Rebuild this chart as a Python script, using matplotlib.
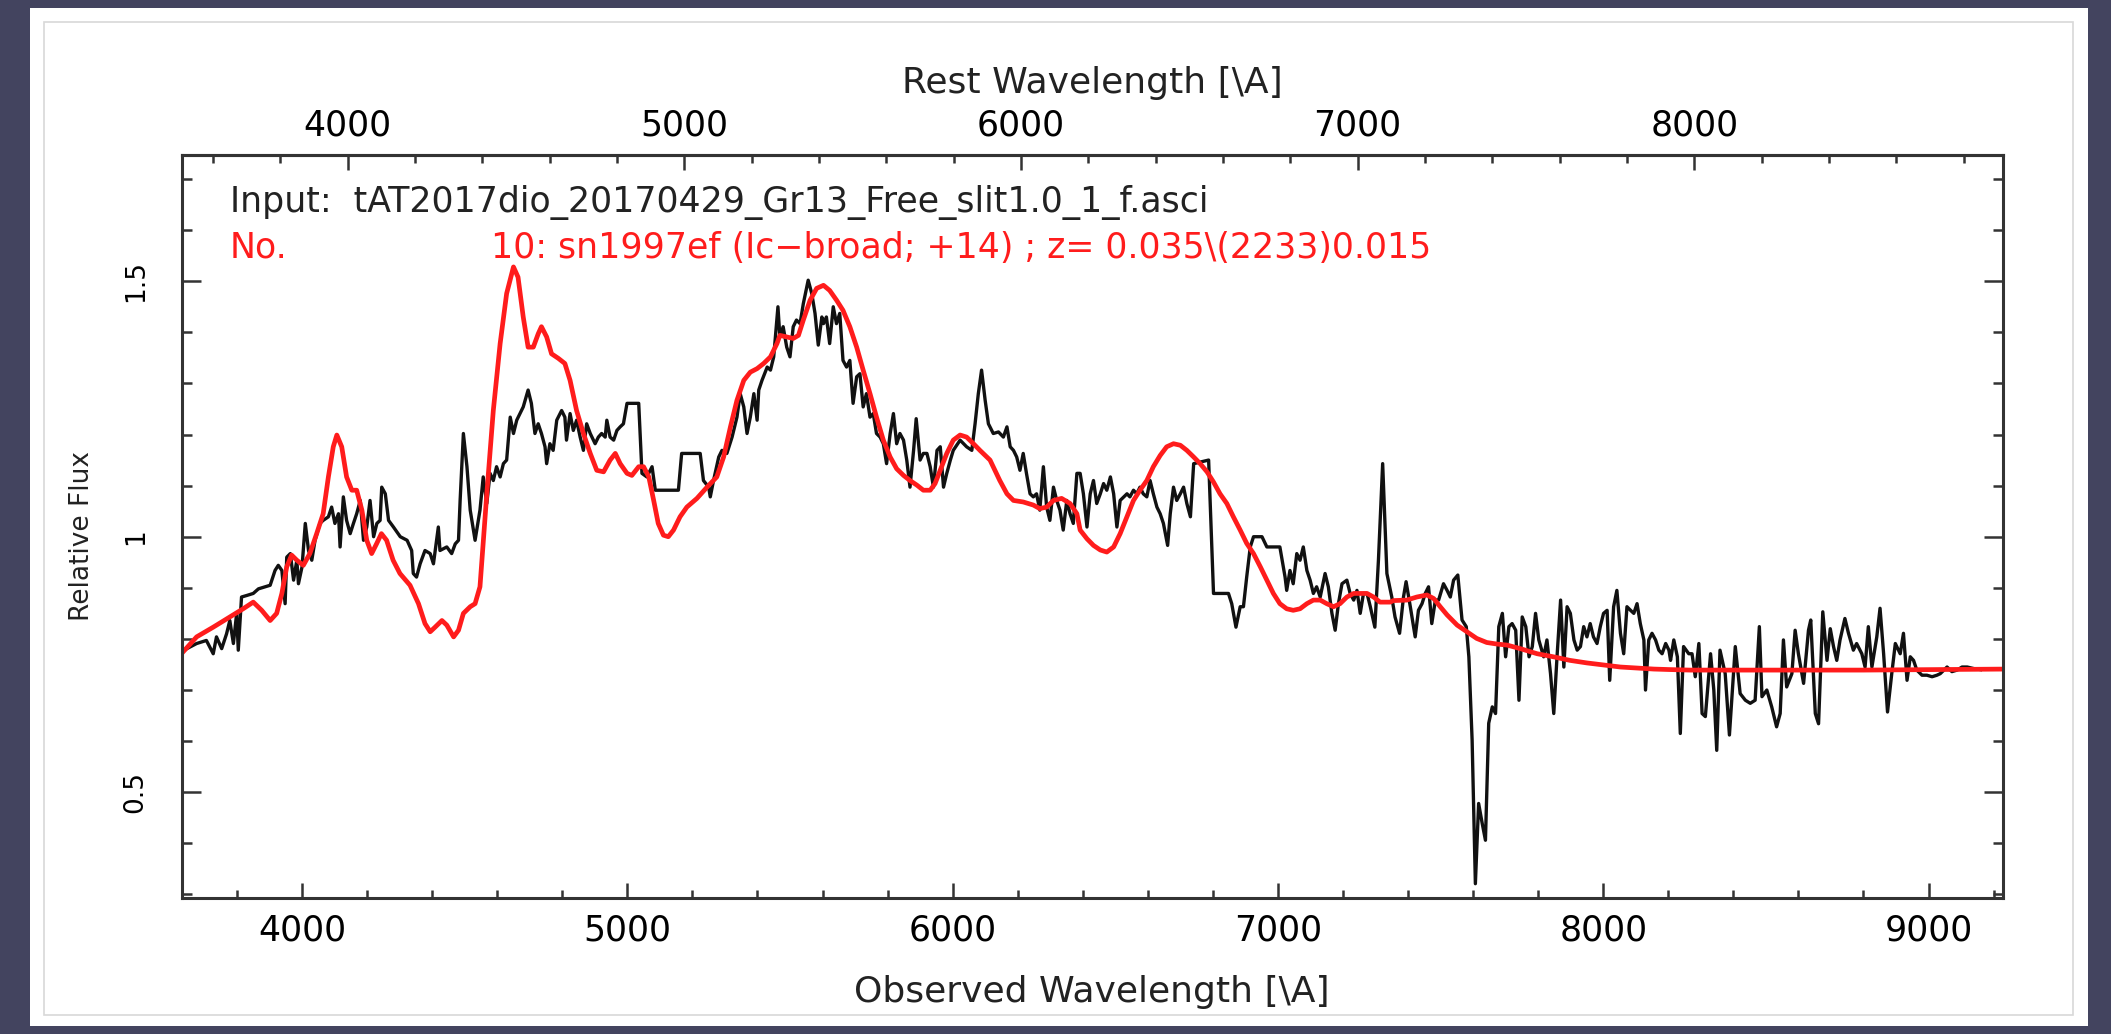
import matplotlib
matplotlib.use("Agg")
import matplotlib.pyplot as plt
from matplotlib.patches import Rectangle
from matplotlib.ticker import FixedLocator, MultipleLocator, FixedFormatter

# observed spectrum (black)
obs_wave = [
    3646, 3676, 3706, 3727, 3737, 3753, 3768, 3778, 3789, 3799, 3804, 3814, 3830, 3850, 3866, 3886,
    3902, 3917, 3927, 3938, 3948, 3953, 3964, 3974, 3984, 3989, 4000, 4010, 4020, 4030, 4040, 4055,
    4065, 4081, 4091, 4101, 4112, 4117, 4127, 4137, 4148, 4158, 4168, 4179, 4189, 4199, 4209, 4220,
    4230, 4240, 4245, 4256, 4266, 4281, 4302, 4323, 4337, 4342, 4352, 4363, 4378, 4394, 4404, 4419,
    4424, 4445, 4460, 4471, 4481, 4486, 4496, 4507, 4517, 4532,
    4547, 4557, 4568, 4578, 4588, 4598, 4609, 4619, 4629, 4640, 4650, 4660, 4670, 4680, 4695, 4705,
    4716, 4726, 4736, 4747, 4752, 4762, 4772, 4783, 4798, 4808, 4813, 4824, 4834, 4844, 4855, 4865,
    4875, 4886, 4901, 4911, 4921, 4932, 4937, 4947, 4958, 4968, 4978, 4988, 4999, 5035, 5045, 5060,
    5076, 5086, 5157, 5167, 5224, 5234, 5250, 5255, 5265, 5281, 5291, 5306, 5322, 5337, 5347, 5358,
    5368, 5378, 5389, 5399, 5404, 5414, 5430, 5440, 5450, 5463,
    5469, 5479, 5490, 5500, 5510, 5520, 5531, 5541, 5556, 5567, 5577, 5587, 5598, 5603, 5612, 5622,
    5633, 5643, 5653, 5663, 5674, 5684, 5694, 5705, 5715, 5725, 5735, 5746, 5756, 5766, 5777, 5787,
    5797, 5808, 5818, 5828, 5838, 5849, 5859, 5869, 5880, 5888, 5900, 5910, 5921, 5931, 5941, 5952,
    5962, 5972, 5982, 5993, 6002, 6023, 6043, 6059, 6069, 6079, 6089, 6100, 6110, 6125, 6141, 6156,
    6167, 6177, 6187, 6197, 6207, 6217, 6227, 6238, 6248, 6258, 6268, 6279, 6289, 6299, 6310, 6320,
    6330, 6340, 6351, 6361, 6371, 6382,
    6392, 6402, 6413, 6423, 6433, 6443, 6454, 6464, 6474, 6485, 6495, 6505, 6515, 6536, 6545, 6556,
    6566, 6576, 6586, 6597, 6607, 6617, 6628, 6638, 6648, 6661, 6669, 6679, 6689, 6700, 6710, 6720,
    6731, 6741, 6787, 6802, 6848, 6858, 6871, 6884, 6894, 6904, 6915, 6925, 6951, 6966, 7006, 7022,
    7027, 7037, 7047, 7058, 7068, 7078, 7089, 7099, 7109, 7119, 7130, 7145, 7155, 7166, 7176, 7186,
    7197, 7212, 7222, 7233, 7243, 7253, 7263, 7274, 7284, 7298, 7309, 7322,
    7335, 7350, 7360, 7374, 7386, 7394, 7407, 7422, 7432, 7443, 7453, 7463, 7473, 7484, 7494, 7509,
    7520, 7530, 7540, 7553, 7566, 7579, 7587, 7597, 7607, 7617, 7628, 7638, 7648, 7659, 7669, 7679,
    7690, 7700, 7710, 7720, 7731, 7741, 7751, 7762, 7772, 7782, 7792, 7802, 7817, 7827, 7838, 7848,
    7858, 7869, 7879, 7889, 7899, 7910, 7920, 7930, 7940, 7950, 7960, 7970, 7981, 7991, 8001, 8012,
    8020, 8032, 8042, 8053, 8063, 8073, 8084, 8094, 8104, 8114, 8125, 8130, 8140, 8150, 8161, 8171,
    8181, 8192, 8202, 8207, 8217, 8228,
    8237, 8247, 8263, 8273, 8283, 8294, 8304, 8314, 8330, 8340, 8349, 8359, 8375, 8388, 8406, 8421,
    8437, 8452, 8467, 8480, 8488, 8503, 8518, 8533, 8544, 8554, 8564, 8580, 8590, 8600, 8616, 8631,
    8638, 8652, 8662, 8675, 8688, 8698, 8708, 8718, 8728, 8743, 8754, 8769, 8779, 8795, 8805, 8815,
    8826, 8841, 8851, 8862, 8874, 8887, 8898, 8913, 8923, 8934, 8944, 8954, 8964, 8980, 8995, 9011,
    9026, 9036, 9057, 9072, 9088, 9103, 9119, 9139, 9160,
]
obs_flux = [
    0.781, 0.791, 0.797, 0.771, 0.804, 0.781, 0.810, 0.836, 0.791, 0.850, 0.778, 0.882, 0.885, 0.889, 0.898, 0.902,
    0.905, 0.934, 0.944, 0.934, 0.869, 0.960, 0.967, 0.915, 0.954, 0.908, 0.941, 1.026, 0.973, 0.954, 0.993, 1.026,
    1.032, 1.039, 1.058, 1.026, 1.045, 0.980, 1.078, 1.032, 1.006, 1.026, 1.045, 1.071, 0.993, 1.019, 1.071, 1.000,
    1.026, 1.032, 1.097, 1.084, 1.032, 1.019, 1.000, 0.993, 0.973, 0.928, 0.921, 0.947, 0.973, 0.967, 0.947, 1.019,
    0.973, 0.980, 0.967, 0.986, 0.993, 1.071, 1.202, 1.137, 1.052, 0.993,
    1.052, 1.117, 1.065, 1.124, 1.110, 1.137, 1.117, 1.143, 1.150, 1.234, 1.202, 1.228, 1.241, 1.254, 1.287, 1.261,
    1.202, 1.221, 1.202, 1.176, 1.143, 1.182, 1.169, 1.228, 1.247, 1.234, 1.189, 1.241, 1.208, 1.228, 1.195, 1.169,
    1.221, 1.202, 1.182, 1.195, 1.202, 1.195, 1.228, 1.195, 1.189, 1.208, 1.215, 1.221, 1.261, 1.261, 1.124, 1.117,
    1.137, 1.091, 1.091, 1.163, 1.163, 1.110, 1.097, 1.078, 1.110, 1.156, 1.169, 1.163, 1.195, 1.234, 1.280, 1.254,
    1.202, 1.234, 1.280, 1.228, 1.287, 1.306, 1.332, 1.326, 1.352, 1.450,
    1.391, 1.411, 1.371, 1.352, 1.411, 1.424, 1.417, 1.456, 1.502, 1.476, 1.437, 1.375, 1.430, 1.417, 1.430, 1.378,
    1.450, 1.417, 1.437, 1.345, 1.332, 1.345, 1.261, 1.313, 1.319, 1.254, 1.280, 1.234, 1.241, 1.202, 1.195, 1.182,
    1.143, 1.202, 1.241, 1.182, 1.202, 1.189, 1.150, 1.097, 1.169, 1.231, 1.150, 1.163, 1.163, 1.137, 1.097, 1.169,
    1.176, 1.097, 1.124, 1.150, 1.169, 1.189, 1.176, 1.169, 1.221, 1.280, 1.326, 1.267, 1.221, 1.202, 1.205, 1.195,
    1.215, 1.176, 1.169, 1.156, 1.130, 1.163, 1.124, 1.084, 1.078, 1.084, 1.052, 1.137, 1.058, 1.032, 1.097, 1.071,
    1.052, 1.013, 1.071, 1.045, 1.026, 1.124,
    1.124, 1.084, 1.019, 1.084, 1.110, 1.065, 1.084, 1.104, 1.091, 1.117, 1.084, 1.019, 1.071, 1.084, 1.078, 1.091,
    1.084, 1.097, 1.084, 1.078, 1.110, 1.084, 1.058, 1.045, 1.026, 0.983, 1.045, 1.097, 1.071, 1.084, 1.097, 1.065,
    1.039, 1.143, 1.150, 0.889, 0.889, 0.869, 0.823, 0.863, 0.863, 0.921, 0.980, 1.000, 1.000, 0.980, 0.980, 0.921,
    0.895, 0.934, 0.908, 0.967, 0.954, 0.980, 0.934, 0.915, 0.889, 0.902, 0.882, 0.928, 0.902, 0.850, 0.817, 0.869,
    0.908, 0.915, 0.889, 0.876, 0.895, 0.850, 0.889, 0.889, 0.863, 0.823, 0.954, 1.143,
    0.928, 0.882, 0.843, 0.811, 0.882, 0.912, 0.863, 0.804, 0.856, 0.869, 0.889, 0.902, 0.830, 0.876, 0.876, 0.908,
    0.895, 0.882, 0.915, 0.925, 0.837, 0.824, 0.765, 0.602, 0.321, 0.478, 0.439, 0.406, 0.635, 0.667, 0.654, 0.824,
    0.850, 0.765, 0.824, 0.830, 0.817, 0.680, 0.843, 0.824, 0.765, 0.785, 0.850, 0.798, 0.765, 0.798, 0.732, 0.654,
    0.765, 0.876, 0.745, 0.863, 0.850, 0.798, 0.778, 0.785, 0.824, 0.804, 0.830, 0.804, 0.791, 0.824, 0.850, 0.856,
    0.719, 0.863, 0.895, 0.811, 0.771, 0.863, 0.856, 0.850, 0.869, 0.830, 0.798, 0.700, 0.798, 0.811, 0.798, 0.778,
    0.771, 0.791, 0.778, 0.758, 0.798, 0.765,
    0.615, 0.785, 0.771, 0.771, 0.726, 0.791, 0.654, 0.648, 0.771, 0.700, 0.582, 0.778, 0.732, 0.612, 0.785, 0.693,
    0.680, 0.674, 0.680, 0.824, 0.687, 0.700, 0.667, 0.628, 0.654, 0.798, 0.706, 0.732, 0.817, 0.771, 0.713, 0.817,
    0.837, 0.654, 0.634, 0.853, 0.758, 0.820, 0.785, 0.758, 0.798, 0.840, 0.811, 0.778, 0.791, 0.771, 0.745, 0.824,
    0.745, 0.804, 0.860, 0.771, 0.657, 0.732, 0.791, 0.771, 0.811, 0.719, 0.765, 0.758, 0.739, 0.729, 0.729, 0.726,
    0.729, 0.732, 0.745, 0.736, 0.739, 0.745, 0.745, 0.742, 0.740,
]

# template spectrum sn1997ef (red)
tmp_wave = [
    3625, 3676, 3727, 3778, 3819, 3850, 3876, 3902, 3922, 3938, 3953, 3968, 3984, 4004, 4024, 4045,
    4065, 4081, 4096, 4107, 4122, 4137, 4153, 4168, 4184, 4199, 4214, 4229, 4244, 4260, 4280, 4301,
    4332, 4358, 4378, 4394, 4409, 4430, 4445, 4466, 4481, 4496, 4517, 4532,
    4547, 4568, 4588, 4609, 4629, 4650, 4664, 4680, 4695, 4711, 4726, 4736, 4752, 4767, 4788, 4808,
    4824, 4844, 4865, 4886, 4906, 4927, 4947, 4963, 4978, 4999, 5014, 5035, 5050, 5066, 5081, 5095,
    5111, 5126, 5142, 5162, 5183, 5214, 5245, 5275, 5296, 5317, 5337, 5358, 5378, 5399, 5419, 5440,
    5460,
    5469, 5490, 5510, 5526, 5541, 5562, 5582, 5603, 5622, 5643, 5663, 5684, 5705, 5725, 5746, 5766,
    5787, 5808, 5828, 5849, 5869, 5890, 5910, 5931, 5946, 5962, 5982, 6002, 6023, 6043, 6064, 6084,
    6115, 6145, 6167, 6187, 6217, 6248, 6268, 6289, 6310, 6335, 6361, 6382,
    6392, 6413, 6433, 6454, 6474, 6495, 6515, 6536, 6556, 6576, 6597, 6617, 6638, 6658, 6679, 6700,
    6720, 6741, 6761, 6782, 6802, 6822, 6843, 6863, 6884, 6904, 6925, 6946, 6966, 6986, 7006, 7027,
    7047, 7068, 7089, 7109, 7130, 7150, 7171, 7191, 7212, 7233, 7253, 7274, 7294, 7314, 7345,
    7355, 7396, 7427, 7458, 7479, 7499, 7520, 7551, 7581, 7611, 7642, 7673, 7704, 7745, 7797, 7847,
    7898, 7950, 8001, 8053, 8104, 8156, 8206, 8268, 8500, 8800, 9000, 9240,
]
tmp_flux = [
    0.768, 0.804, 0.823, 0.843, 0.859, 0.872, 0.856, 0.836, 0.850, 0.889, 0.941, 0.964, 0.954, 0.944, 0.967, 1.006,
    1.045, 1.117, 1.176, 1.199, 1.176, 1.117, 1.091, 1.091, 1.052, 0.993, 0.967, 0.986, 1.006, 0.993, 0.954, 0.928,
    0.905, 0.869, 0.830, 0.814, 0.823, 0.836, 0.827, 0.804, 0.817, 0.850, 0.863, 0.869,
    0.902, 1.084, 1.247, 1.378, 1.476, 1.528, 1.508, 1.430, 1.371, 1.371, 1.397, 1.411, 1.391, 1.358, 1.349, 1.339,
    1.306, 1.247, 1.202, 1.163, 1.130, 1.127, 1.150, 1.163, 1.143, 1.124, 1.120, 1.137, 1.137, 1.117, 1.071, 1.026,
    1.003, 1.000, 1.013, 1.039, 1.058, 1.075, 1.097, 1.117, 1.156, 1.215, 1.267, 1.306, 1.322, 1.329, 1.339, 1.352,
    1.378,
    1.394, 1.391, 1.388, 1.394, 1.424, 1.463, 1.486, 1.492, 1.482, 1.463, 1.443, 1.411, 1.371, 1.326, 1.280, 1.234,
    1.189, 1.156, 1.133, 1.120, 1.110, 1.101, 1.091, 1.091, 1.104, 1.130, 1.163, 1.189, 1.199, 1.195, 1.182, 1.169,
    1.150, 1.110, 1.084, 1.071, 1.068, 1.062, 1.055, 1.058, 1.071, 1.075, 1.065, 1.045,
    1.013, 0.996, 0.983, 0.974, 0.970, 0.980, 1.006, 1.039, 1.071, 1.091, 1.110, 1.137, 1.159, 1.176, 1.182, 1.179,
    1.169, 1.156, 1.143, 1.127, 1.107, 1.084, 1.065, 1.039, 1.013, 0.987, 0.967, 0.941, 0.915, 0.889, 0.869, 0.859,
    0.856, 0.859, 0.869, 0.876, 0.876, 0.869, 0.863, 0.869, 0.882, 0.889, 0.889, 0.889, 0.882, 0.872, 0.872,
    0.875, 0.876, 0.882, 0.886, 0.879, 0.863, 0.847, 0.827, 0.814, 0.801, 0.793, 0.790, 0.788, 0.781, 0.771, 0.765,
    0.758, 0.753, 0.749, 0.745, 0.743, 0.741, 0.740, 0.739, 0.739, 0.739, 0.740, 0.741,
]

z = 0.035
obs_ticks = [4000, 5000, 6000, 7000, 8000, 9000]
rest_ticks = [4000, 5000, 6000, 7000, 8000]
flux_ticks = [0.5, 1.0, 1.5]
flux_labels = ["0.5", "1", "1.5"]

input_text = "Input:  tAT2017dio_20170429_Gr13_Free_slit1.0_1_f.asci"
match_text = "10: sn1997ef (Ic\u2212broad; +14) ; z= 0.035\\(2233)0.015"

W, H = 2111, 1034
plt.rcParams['font.family'] = ['DejaVu Sans']

fig = plt.figure(figsize=(W / 100, H / 100), dpi=100)
fig.patch.set_facecolor('#43445f')

# white slide panel and its thin inner frame, kept behind the axes
fig.patches.append(Rectangle((30 / W, 1 - 1026 / H), (2088 - 30) / W, (1026 - 8) / H,
                             transform=fig.transFigure, facecolor='white', edgecolor='none', zorder=-2))
fig.patches.append(Rectangle((44 / W, 1 - 1015 / H), (2073 - 44) / W, (1015 - 22) / H,
                             transform=fig.transFigure, fill=False, edgecolor='#d8d8d8', lw=1.2, zorder=-1))

ax = fig.add_axes([182 / W, 1 - 898 / H, (2003 - 182) / W, (898 - 155) / H])
ax.plot(obs_wave, obs_flux, color='#111111', lw=2.4, solid_joinstyle='round')
ax.plot(tmp_wave, tmp_flux, color='#ff1c1c', lw=3.4, solid_joinstyle='round')

ax.set_xlim(3631, 9229)
ax.set_ylim(0.293, 1.747)

for s in ax.spines.values():
    s.set_linewidth(2.2)
    s.set_color('#333333')

ax.xaxis.set_major_locator(FixedLocator(obs_ticks))
ax.xaxis.set_minor_locator(MultipleLocator(200))
ax.yaxis.set_major_locator(FixedLocator(flux_ticks))
ax.yaxis.set_major_formatter(FixedFormatter(flux_labels))
ax.yaxis.set_minor_locator(MultipleLocator(0.1))

ax.tick_params(axis='both', which='both', direction='in', color='#333333', width=1.8)
ax.tick_params(axis='x', which='major', length=11, labelsize=25, pad=11, top=False)
ax.tick_params(axis='x', which='minor', length=6, top=False)
ax.tick_params(axis='y', which='major', length=14, labelsize=19, pad=24, right=True, labelrotation=90)
ax.tick_params(axis='y', which='minor', length=7.5, right=True)
for lab in ax.get_yticklabels():
    lab.set_va('center')

sec = ax.secondary_xaxis('top', functions=(lambda x: x / (1 + z), lambda x: x * (1 + z)))
sec.xaxis.set_major_locator(FixedLocator(rest_ticks))
sec.xaxis.set_minor_locator(MultipleLocator(200))
sec.tick_params(axis='x', which='both', direction='in', color='#333333', width=1.8)
sec.tick_params(axis='x', which='major', length=11, labelsize=25, pad=9)
sec.tick_params(axis='x', which='minor', length=6)
sec.spines['top'].set_linewidth(2.2)
sec.spines['top'].set_color('#333333')

fig.text(230 / W, 1 - 212 / H, input_text, fontsize=25, color='#222222', va='baseline')
fig.text(230 / W, 1 - 258 / H, 'No.', fontsize=25, color='#ff1c1c', va='baseline')
fig.text(491 / W, 1 - 258 / H, match_text, fontsize=25, color='#ff1c1c', va='baseline')

fig.text(1092 / W, 1 - 93 / H, 'Rest Wavelength [\\A]', fontsize=26, color='#222222',
         ha='center', va='baseline')
fig.text(1092 / W, 1 - 1002 / H, 'Observed Wavelength [\\A]', fontsize=26, color='#222222',
         ha='center', va='baseline')
fig.text(82 / W, 1 - 536 / H, 'Relative Flux', fontsize=19, color='#222222',
         rotation=90, ha='center', va='center')

fig.savefig('out.png', dpi=100, facecolor=fig.get_facecolor())
